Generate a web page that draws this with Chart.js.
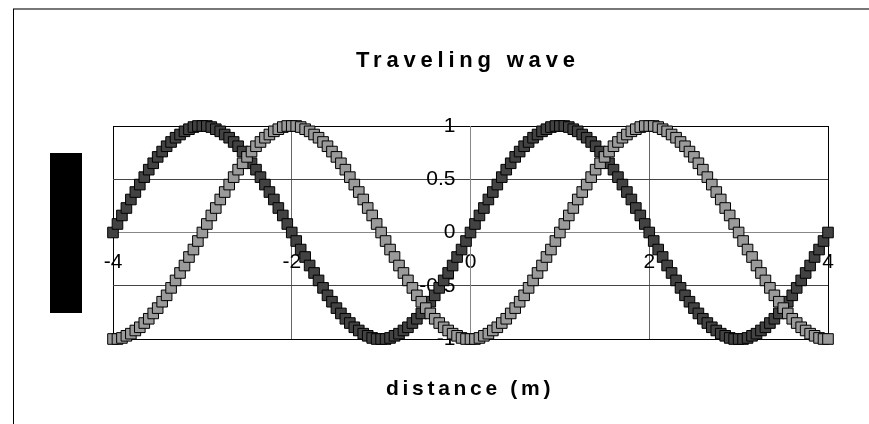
<!DOCTYPE html>
<html>
<head>
<meta charset="utf-8">
<title>Traveling wave</title>
<script src="https://cdn.jsdelivr.net/npm/chart.js@4.4.1/dist/chart.umd.min.js"></script>
<style>
  html, body { margin: 0; padding: 0; background: #fff; }
  canvas { display: block; }
</style>
</head>
<body>
<canvas id="wave" width="869" height="424"></canvas>
<script>
'use strict'

// distance (m), one sample every 0.05 m
var xs = [
  -4, -3.95, -3.9, -3.85, -3.8, -3.75, -3.7, -3.65, -3.6, -3.55,
  -3.5, -3.45, -3.4, -3.35, -3.3, -3.25, -3.2, -3.15, -3.1, -3.05,
  -3, -2.95, -2.9, -2.85, -2.8, -2.75, -2.7, -2.65, -2.6, -2.55,
  -2.5, -2.45, -2.4, -2.35, -2.3, -2.25, -2.2, -2.15, -2.1, -2.05,
  -2, -1.95, -1.9, -1.85, -1.8, -1.75, -1.7, -1.65, -1.6, -1.55,
  -1.5, -1.45, -1.4, -1.35, -1.3, -1.25, -1.2, -1.15, -1.1, -1.05,
  -1, -0.95, -0.9, -0.85, -0.8, -0.75, -0.7, -0.65, -0.6, -0.55,
  -0.5, -0.45, -0.4, -0.35, -0.3, -0.25, -0.2, -0.15, -0.1, -0.05,
  0, 0.05, 0.1, 0.15, 0.2, 0.25, 0.3, 0.35, 0.4, 0.45,
  0.5, 0.55, 0.6, 0.65, 0.7, 0.75, 0.8, 0.85, 0.9, 0.95,
  1, 1.05, 1.1, 1.15, 1.2, 1.25, 1.3, 1.35, 1.4, 1.45,
  1.5, 1.55, 1.6, 1.65, 1.7, 1.75, 1.8, 1.85, 1.9, 1.95,
  2, 2.05, 2.1, 2.15, 2.2, 2.25, 2.3, 2.35, 2.4, 2.45,
  2.5, 2.55, 2.6, 2.65, 2.7, 2.75, 2.8, 2.85, 2.9, 2.95,
  3, 3.05, 3.1, 3.15, 3.2, 3.25, 3.3, 3.35, 3.4, 3.45,
  3.5, 3.55, 3.6, 3.65, 3.7, 3.75, 3.8, 3.85, 3.9, 3.95,
  4
]

// displacement at the first instant (dark squares)
var waveNow = [
  0, 0.08, 0.16, 0.23, 0.31, 0.38, 0.45, 0.52, 0.59, 0.65,
  0.71, 0.76, 0.81, 0.85, 0.89, 0.92, 0.95, 0.97, 0.99, 1, 1,
  1, 0.99, 0.97, 0.95, 0.92, 0.89, 0.85, 0.81, 0.76, 0.71,
  0.65, 0.59, 0.52, 0.45, 0.38, 0.31, 0.23, 0.16, 0.08, 0,
  -0.08, -0.16, -0.23, -0.31, -0.38, -0.45, -0.52, -0.59, -0.65, -0.71,
  -0.76, -0.81, -0.85, -0.89, -0.92, -0.95, -0.97, -0.99, -1, -1,
  -1, -0.99, -0.97, -0.95, -0.92, -0.89, -0.85, -0.81, -0.76, -0.71,
  -0.65, -0.59, -0.52, -0.45, -0.38, -0.31, -0.23, -0.16, -0.08, 0,
  0.08, 0.16, 0.23, 0.31, 0.38, 0.45, 0.52, 0.59, 0.65, 0.71,
  0.76, 0.81, 0.85, 0.89, 0.92, 0.95, 0.97, 0.99, 1, 1,
  1, 0.99, 0.97, 0.95, 0.92, 0.89, 0.85, 0.81, 0.76, 0.71,
  0.65, 0.59, 0.52, 0.45, 0.38, 0.31, 0.23, 0.16, 0.08, 0,
  -0.08, -0.16, -0.23, -0.31, -0.38, -0.45, -0.52, -0.59, -0.65, -0.71,
  -0.76, -0.81, -0.85, -0.89, -0.92, -0.95, -0.97, -0.99, -1, -1,
  -1, -0.99, -0.97, -0.95, -0.92, -0.89, -0.85, -0.81, -0.76, -0.71,
  -0.65, -0.59, -0.52, -0.45, -0.38, -0.31, -0.23, -0.16, -0.08, 0
]

// displacement a moment later, crest moved on by 1 m (light squares)
var waveLater = [
  -1, -1, -0.99, -0.97, -0.95, -0.92, -0.89, -0.85, -0.81, -0.76,
  -0.71, -0.65, -0.59, -0.52, -0.45, -0.38, -0.31, -0.23, -0.16, -0.08, 0,
  0.08, 0.16, 0.23, 0.31, 0.38, 0.45, 0.52, 0.59, 0.65, 0.71,
  0.76, 0.81, 0.85, 0.89, 0.92, 0.95, 0.97, 0.99, 1, 1,
  1, 0.99, 0.97, 0.95, 0.92, 0.89, 0.85, 0.81, 0.76, 0.71,
  0.65, 0.59, 0.52, 0.45, 0.38, 0.31, 0.23, 0.16, 0.08, 0,
  -0.08, -0.16, -0.23, -0.31, -0.38, -0.45, -0.52, -0.59, -0.65, -0.71,
  -0.76, -0.81, -0.85, -0.89, -0.92, -0.95, -0.97, -0.99, -1, -1,
  -1, -0.99, -0.97, -0.95, -0.92, -0.89, -0.85, -0.81, -0.76, -0.71,
  -0.65, -0.59, -0.52, -0.45, -0.38, -0.31, -0.23, -0.16, -0.08, 0,
  0.08, 0.16, 0.23, 0.31, 0.38, 0.45, 0.52, 0.59, 0.65, 0.71,
  0.76, 0.81, 0.85, 0.89, 0.92, 0.95, 0.97, 0.99, 1, 1,
  1, 0.99, 0.97, 0.95, 0.92, 0.89, 0.85, 0.81, 0.76, 0.71,
  0.65, 0.59, 0.52, 0.45, 0.38, 0.31, 0.23, 0.16, 0.08, 0,
  -0.08, -0.16, -0.23, -0.31, -0.38, -0.45, -0.52, -0.59, -0.65, -0.71,
  -0.76, -0.81, -0.85, -0.89, -0.92, -0.95, -0.97, -0.99, -1, -1
]

var xTicks = [-4, -2, 0, 2, 4]
var yTicks = [-1, -0.5, 0, 0.5, 1]

var FONT = '"Liberation Sans", Arial, sans-serif'

function points(ys) {
  return xs.map(function (x, i) { return { x: x, y: ys[i] } })
}

function squares(label, ys, fill) {
  return {
    label: label,
    data: points(ys),
    showLine: false,
    pointStyle: 'rect',
    pointRadius: 7.5,
    pointHoverRadius: 7.5,
    pointBackgroundColor: fill,
    pointBorderColor: '#000',
    pointBorderWidth: 1,
    clip: false
  }
}

// frame, the boxed y title and the spaced-out bold captions
var decorations = {
  id: 'decorations',
  beforeDraw: function (chart) {
    var ctx = chart.ctx
    ctx.save()
    ctx.fillStyle = '#fff'
    ctx.fillRect(0, 0, chart.width, chart.height)
    ctx.strokeStyle = '#777'
    ctx.lineWidth = 2
    ctx.beginPath()
    ctx.moveTo(13, 9)
    ctx.lineTo(chart.width, 9)
    ctx.stroke()
    ctx.strokeStyle = '#000'
    ctx.lineWidth = 1
    ctx.beginPath()
    ctx.moveTo(13.5, 9)
    ctx.lineTo(13.5, chart.height)
    ctx.stroke()
    ctx.fillStyle = '#000'
    ctx.fillRect(50, 153, 32, 160)
    ctx.restore()

    // the value labels sit a little left of the crossing axis
    var items = chart.scales.y.getLabelItems(chart.chartArea)
    if (!items.shifted) {
      items.forEach(function (it) { it.options.translation[0] -= 15 })
      items.shifted = true
    }
  },
  afterDraw: function (chart) {
    var ctx = chart.ctx
    ctx.save()
    ctx.fillStyle = '#000'
    ctx.textAlign = 'left'
    ctx.textBaseline = 'alphabetic'
    ctx.font = 'bold 22px ' + FONT
    ctx.letterSpacing = '4.8px'
    ctx.fillText('Traveling wave', 356, 67)
    ctx.font = 'bold 21px ' + FONT
    ctx.letterSpacing = '3.7px'
    ctx.fillText('distance (m)', 386, 395)
    ctx.restore()
  }
}

function edgeColor(ends, inner) {
  return function (c) {
    return ends.indexOf(c.tick.value) >= 0 ? '#000' : inner
  }
}

var chart = new Chart(document.getElementById('wave'), {
  type: 'scatter',
  data: {
    datasets: [
      squares('later', waveLater, '#9a9a9a'),
      squares('now', waveNow, '#424242')
    ]
  },
  options: {
    responsive: false,
    animation: false,
    events: [],
    layout: { padding: { left: 113, top: 126, right: 41, bottom: 85 } },
    plugins: {
      legend: { display: false },
      title: { display: false },
      tooltip: { enabled: false }
    },
    scales: {
      x: {
        type: 'linear',
        position: { y: 0 },
        min: -4,
        max: 4,
        afterBuildTicks: function (s) {
          s.ticks = xTicks.map(function (v) { return { value: v } })
        },
        grid: { color: edgeColor([-4, 4], '#666'), drawTicks: false },
        border: { color: '#888', width: 1 },
        ticks: { color: '#000', font: { family: FONT, size: 21 }, padding: 17, maxRotation: 0 }
      },
      y: {
        type: 'linear',
        position: { x: 0 },
        min: -1,
        max: 1,
        afterBuildTicks: function (s) {
          s.ticks = yTicks.map(function (v) { return { value: v } })
        },
        grid: { color: edgeColor([-1, 1], '#444'), drawTicks: false },
        border: { color: '#888', width: 1 },
        ticks: {
          color: '#000',
          font: { family: FONT, size: 21 },
          callback: function (v) { return String(v) }
        }
      }
    }
  },
  plugins: [decorations]
})
</script>
</body>
</html>
